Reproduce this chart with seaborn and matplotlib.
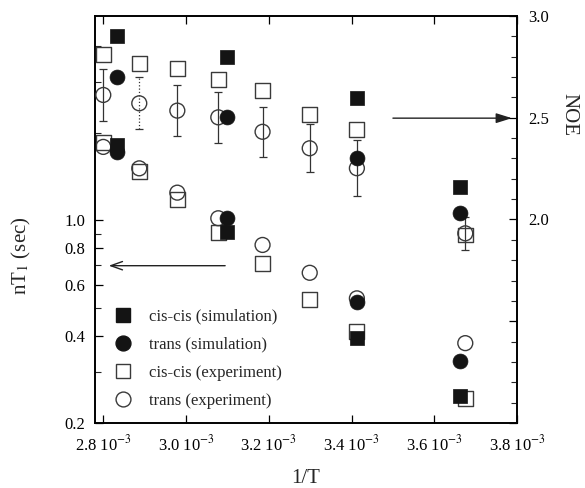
import numpy as np
import pandas as pd
import matplotlib
matplotlib.use("Agg")
import matplotlib.pyplot as plt
from matplotlib.ticker import FixedLocator, FixedFormatter, NullFormatter
import seaborn as sns

# ---------------- data ----------------
# x = 1/T (K^-1)
x_sim = [2.833e-3, 3.098e-3, 3.413e-3, 3.663e-3]
x_exp = [2.800e-3, 2.887e-3, 2.979e-3, 3.078e-3, 3.185e-3, 3.299e-3, 3.413e-3, 3.675e-3]

# nT1 (sec), left log axis
t1_ciscis_sim = [1.82, 0.909, 0.392, 0.248]
t1_trans_sim = [1.72, 1.016, 0.521, 0.327]
t1_ciscis_exp = [1.86, 1.471, 1.175, 0.909, 0.711, 0.534, 0.413, 0.243]
t1_trans_exp = [1.79, 1.51, 1.245, 1.016, 0.822, 0.659, 0.538, 0.377]

# NOE, right axis
noe_ciscis_sim = [2.902, 2.800, 2.598, 2.161]
noe_trans_sim = [2.702, 2.502, 2.301, 2.030]
noe_ciscis_exp = [2.812, 2.768, 2.743, 2.690, 2.636, 2.514, 2.443, 1.924]
noe_trans_exp = [2.612, 2.571, 2.535, 2.502, 2.431, 2.350, 2.252, 1.932]
noe_trans_exp_err = [0.13, 0.128, 0.127, 0.125, 0.123, 0.119, 0.138, 0.08]

series_labels = ["cis-cis (simulation)", "trans (simulation)",
                 "cis-cis (experiment)", "trans (experiment)"]

x_ticks = [2.8e-3, 3.0e-3, 3.2e-3, 3.4e-3, 3.6e-3, 3.8e-3]
x_ticklabels = [r"2.8 10$^{-3}$", r"3.0 10$^{-3}$", r"3.2 10$^{-3}$",
                r"3.4 10$^{-3}$", r"3.6 10$^{-3}$", r"3.8 10$^{-3}$"]
left_major = [0.2, 0.4, 0.6, 0.8, 1.0]
left_major_labels = ["0.2", "0.4", "0.6", "0.8", "1.0"]
left_minor = [0.3, 0.5, 0.7, 0.9, 2.0, 3.0, 4.0]
right_major = [1.0, 1.5, 2.0, 2.5, 3.0]
right_major_labels = ["", "", "2.0", "2.5", "3.0"]

# ---------------- style ----------------
sns.set_theme(style="ticks")
plt.rcParams["font.family"] = ["Liberation Serif", "DejaVu Serif"]
plt.rcParams["mathtext.fontset"] = "stix"
plt.rcParams["axes.linewidth"] = 1.2

fig = plt.figure(figsize=(5.85, 4.88), dpi=100)
ax = fig.add_axes([95 / 585, 1 - 423 / 488, 422 / 585, 407 / 488])
ax2 = ax.twinx()

ms = 115
black = "#141414"
edge_open = "#3a3a3a"

def draw(axis, x, y, marker, filled, label=None):
    df = pd.DataFrame({"x": x, "y": y})
    if filled:
        sns.scatterplot(data=df, x="x", y="y", ax=axis, marker=marker, s=ms,
                        color=black, edgecolor=black, linewidth=0.5,
                        label=label, legend=False, zorder=3)
    else:
        sns.scatterplot(data=df, x="x", y="y", ax=axis, marker=marker, s=ms,
                        facecolor="none", edgecolor=edge_open, linewidth=1.0,
                        label=label, legend=False, zorder=3)

# T1 (left axis)
draw(ax, x_exp, t1_ciscis_exp, "s", False)
draw(ax, x_exp, t1_trans_exp, "o", False)
draw(ax, x_sim, t1_ciscis_sim, "s", True)
draw(ax, x_sim, t1_trans_sim, "o", True)

# NOE (right axis)
for i in range(len(x_exp)):
    ls = ":" if i == 1 else "-"
    eb = ax2.errorbar([x_exp[i]], [noe_trans_exp[i]], yerr=[noe_trans_exp_err[i]],
                      fmt="none", ecolor="#333333", elinewidth=0.9, capsize=3,
                      capthick=0.9, zorder=2)
    for c in eb[2]:
        c.set_linestyle(ls)
draw(ax2, x_exp, noe_ciscis_exp, "s", False)
draw(ax2, x_exp, noe_trans_exp, "o", False)
draw(ax2, x_sim, noe_ciscis_sim, "s", True)
draw(ax2, x_sim, noe_trans_sim, "o", True)

# ---------------- axes ----------------
ax.set_xlim(2.78e-3, 3.8e-3)
ax.set_yscale("log")
ax.set_ylim(0.2, 5.06)
ax2.set_ylim(1.0, 3.0)

ax.xaxis.set_major_locator(FixedLocator(x_ticks))
ax.xaxis.set_major_formatter(FixedFormatter(x_ticklabels))
ax.xaxis.set_minor_locator(FixedLocator([]))
ax.yaxis.set_major_locator(FixedLocator(left_major))
ax.yaxis.set_major_formatter(FixedFormatter(left_major_labels))
ax.yaxis.set_minor_locator(FixedLocator(left_minor))
ax.yaxis.set_minor_formatter(NullFormatter())

ax2.yaxis.set_major_locator(FixedLocator(right_major))
ax2.yaxis.set_major_formatter(FixedFormatter(right_major_labels))
ax2.yaxis.set_minor_locator(FixedLocator(list(np.round(np.arange(1.1, 3.0, 0.1), 2))))
ax2.yaxis.set_minor_formatter(NullFormatter())

ax.tick_params(axis="x", which="both", direction="in", top=True, bottom=True,
               length=6, width=0.9, labelsize=12, pad=8, colors="black")
ax.tick_params(axis="y", which="major", direction="in", left=True, right=False,
               length=6, width=0.9, labelsize=12, pad=7, colors="black")
ax.tick_params(axis="y", which="minor", direction="in", left=True, right=False,
               length=4, width=0.8)
ax2.tick_params(axis="y", which="major", direction="in", right=True,
                length=6, width=0.9, labelsize=12, pad=8, colors="black")
ax2.tick_params(axis="y", which="minor", direction="in", right=True,
                length=4, width=0.8)

for a in (ax, ax2):
    for sp in a.spines.values():
        sp.set_visible(True)
        sp.set_color("black")
        sp.set_linewidth(1.2)

ax.set_xlabel("1/T", fontsize=15)
ax.xaxis.set_label_coords(0.50, -0.112)
ax.set_ylabel(r"nT$_1$ (sec)", fontsize=15)
ax.yaxis.set_label_coords(-0.147, 0.41)
ax2.set_ylabel("NOE", fontsize=15)
ax2.yaxis.label.set(rotation=-90, rotation_mode="default", ha="center", va="center")
ax2.yaxis.set_label_coords(1.123, 0.757)

# arrows indicating which axis
ax.annotate("", xy=(0.026, 0.3865), xytext=(0.315, 0.3865), xycoords="axes fraction",
            arrowprops=dict(arrowstyle="->,head_length=0.7,head_width=0.25",
                            color="#222222", lw=1.0))
ax.annotate("", xy=(0.988, 0.749), xytext=(0.706, 0.749), xycoords="axes fraction",
            arrowprops=dict(arrowstyle="-|>,head_length=0.8,head_width=0.25",
                            color="#222222", lw=1.0, shrinkA=0, shrinkB=0))

# legend
handles = [
    plt.Line2D([], [], marker="s", ls="none", markersize=10.7, color=black, mec=black),
    plt.Line2D([], [], marker="o", ls="none", markersize=10.7, color=black, mec=black),
    plt.Line2D([], [], marker="s", ls="none", markersize=10.7, mfc="none", mec=edge_open, mew=1.0),
    plt.Line2D([], [], marker="o", ls="none", markersize=10.7, mfc="none", mec=edge_open, mew=1.0),
]
ax2.legend(handles, series_labels, loc="lower left", bbox_to_anchor=(0.047, 0.035),
           frameon=False, fontsize=12, handlelength=1.0, handletextpad=1.05,
           labelspacing=0.72, borderaxespad=0, borderpad=0)

fig.savefig("out.png", dpi=100)
